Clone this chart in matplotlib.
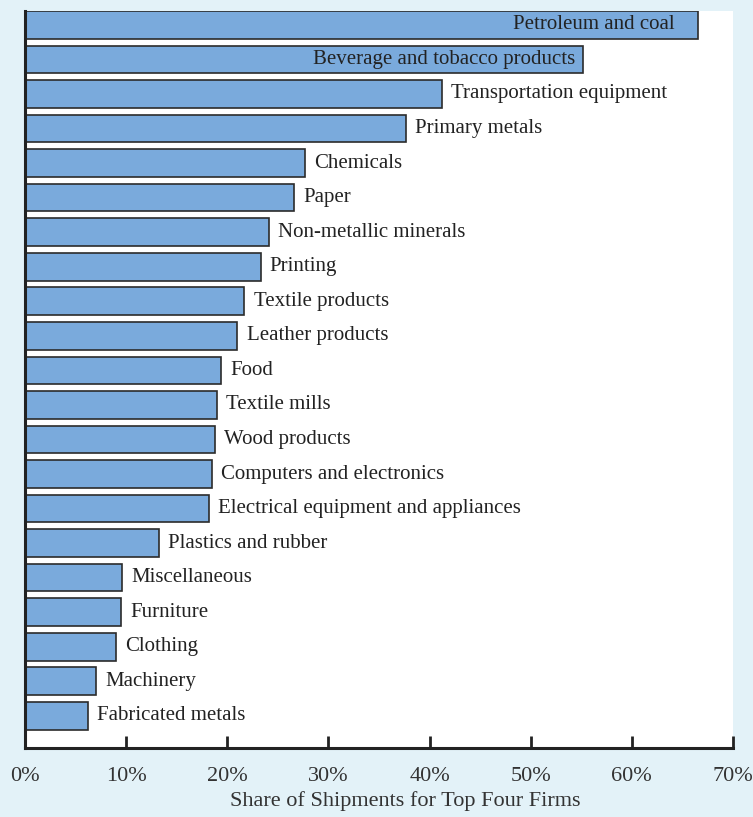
import matplotlib
matplotlib.use("Agg")
import matplotlib.pyplot as plt

categories = [
    "Petroleum and coal", "Beverage and tobacco products", "Transportation equipment",
    "Primary metals", "Chemicals", "Paper", "Non-metallic minerals", "Printing",
    "Textile products", "Leather products", "Food", "Textile mills", "Wood products",
    "Computers and electronics", "Electrical equipment and appliances",
    "Plastics and rubber", "Miscellaneous", "Furniture", "Clothing", "Machinery",
    "Fabricated metals",
]
shares = [66.5, 55.2, 41.2, 37.7, 27.7, 26.6, 24.1, 23.3, 21.7, 21.0, 19.4, 19.0,
          18.8, 18.5, 18.2, 13.2, 9.6, 9.5, 9.0, 7.0, 6.2]
xticks = [0, 10, 20, 30, 40, 50, 60, 70]
xticklabels = ["0%", "10%", "20%", "30%", "40%", "50%", "60%", "70%"]
inside_offsets = {"Petroleum and coal": 2.3, "Beverage and tobacco products": 0.8}

plt.rcParams['font.family'] = ['Liberation Serif', 'DejaVu Serif']
bg = "#e3f2f8"
fig = plt.figure(figsize=(7.53, 8.17), dpi=100, facecolor=bg)
ax = fig.add_axes([25/753, 1 - 748/817, (733 - 25)/753, (748 - 11)/817])
ax.set_facecolor("white")

n = len(categories)
ypos = [n - 1 - i for i in range(n)]
ax.barh(ypos, shares, height=0.8, color="#7aaadc", edgecolor="#2b2b2b", linewidth=1.2, zorder=2)

fs = 15
for y, v, c in zip(ypos, shares, categories):
    if c in inside_offsets:
        ax.text(v - inside_offsets[c], y, c, ha="right", va="center", fontsize=fs,
                color="#222222", zorder=3)
    else:
        ax.text(v + 0.9, y, c, ha="left", va="center", fontsize=fs, color="#222222", zorder=3)

ax.set_xlim(0, 70)
ax.set_ylim(-0.93, n - 1 + 0.4)
ax.set_xticks(xticks)
ax.set_xticklabels(xticklabels, fontsize=16, color="#333333")
ax.tick_params(axis="x", direction="in", length=9, width=2, color="#222222", pad=14)
ax.set_yticks([])
for s in ["top", "right"]:
    ax.spines[s].set_visible(False)
for s in ["left", "bottom"]:
    ax.spines[s].set_linewidth(2.2)
    ax.spines[s].set_color("#222222")
fig.text(405/753, 1 - 801/817, "Share of Shipments for Top Four Firms", fontsize=16,
         color="#333333", ha="center", va="center")

fig.savefig("out.png", dpi=100, facecolor=bg)
